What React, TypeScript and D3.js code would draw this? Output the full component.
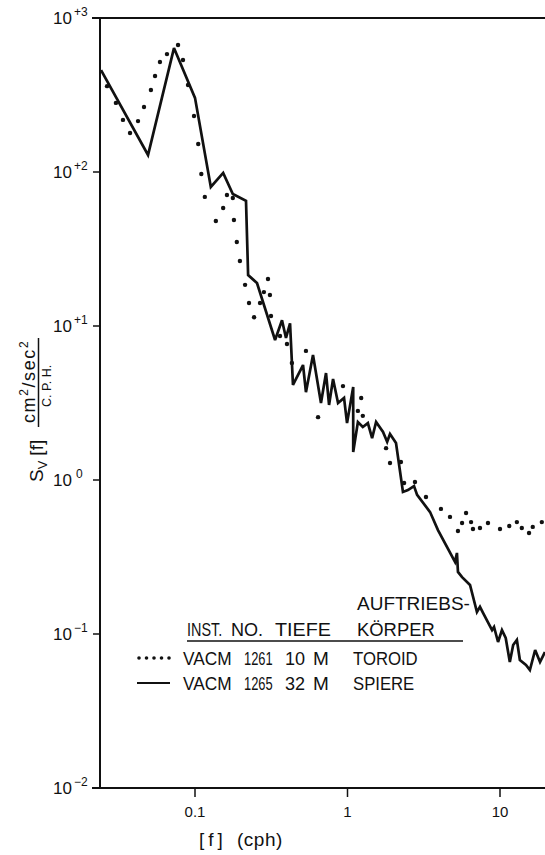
import React from 'react';
import * as d3 from 'd3';

// VACM 1265, 32 M (durchgezogen)
const freqSolid = [0.0242, 0.0492, 0.0728, 0.1, 0.127, 0.153, 0.177, 0.216, 0.223, 0.255, 0.335, 0.372, 0.395, 0.42, 0.439, 0.511, 0.534, 0.594, 0.67, 0.723, 0.757, 0.804, 0.867, 0.949, 0.993, 1.09, 1.09, 1.17, 1.26, 1.36, 1.45, 1.54, 1.71, 1.82, 1.9, 2.08, 2.31, 2.49, 2.73, 2.86, 3.48, 3.92, 5.07, 5.22, 5.3, 5.64, 6.36, 7.06, 7.39, 7.74, 8.87, 9.14, 9.71, 10.3, 10.9, 11.6, 12.2, 12.9, 13.5, 14.8, 15.7, 17.0, 18.3, 19.7];
const specSolid = [459, 129, 638, 303, 80, 98.6, 71.9, 64.9, 21.4, 19.0, 8.11, 10.9, 8.36, 10.4, 4.14, 5.58, 3.72, 6.49, 3.16, 4.95, 3.07, 4.53, 3.16, 3.41, 2.34, 4.02, 1.52, 2.38, 2.21, 2.34, 1.87, 2.38, 2.05, 1.77, 1.99, 1.74, 0.836, 0.861, 0.914, 0.8, 0.619, 0.473, 0.294, 0.336, 0.253, 0.234, 0.208, 0.139, 0.15, 0.137, 0.106, 0.111, 0.0887, 0.106, 0.0942, 0.0658, 0.0849, 0.0914, 0.0678, 0.063, 0.0584, 0.0787, 0.0658, 0.0764];

// VACM 1261, 10 M (punktiert)
const freqDots = [0.0265, 0.0303, 0.0337, 0.0375, 0.0423, 0.0463, 0.0514, 0.0547, 0.0589, 0.0655, 0.0774, 0.0834, 0.09, 0.0985, 0.105, 0.11, 0.116, 0.137, 0.153, 0.162, 0.177, 0.18, 0.188, 0.197, 0.213, 0.226, 0.244, 0.267, 0.283, 0.301, 0.31, 0.315, 0.361, 0.401, 0.432, 0.534, 0.641, 0.934, 1.17, 1.23, 1.26, 1.79, 1.9, 2.24, 2.35, 2.77, 3.27, 4.1, 4.7, 5.3, 5.64, 5.99, 6.46, 6.65, 7.39, 8.34, 10.0, 11.5, 12.9, 13.9, 15.5, 16.4, 18.8];
const specDots = [361, 281, 218, 179, 214, 264, 341, 420, 518, 583, 668, 534, 367, 231, 152, 97, 68.9, 48.1, 58.4, 70.9, 67.8, 48.8, 35.1, 26.4, 18.5, 14.1, 11.4, 14.1, 16.6, 20.2, 15.9, 11.6, 8.61, 7.64, 5.75, 6.89, 2.56, 4.07, 2.81, 3.41, 2.61, 1.61, 1.29, 1.31, 0.957, 0.971, 0.776, 0.649, 0.576, 0.467, 0.526, 0.611, 0.533, 0.481, 0.488, 0.526, 0.481, 0.503, 0.533, 0.488, 0.453, 0.496, 0.533];

const yTicks = [1000, 100, 10, 1, 0.1, 0.01];
const yTickExps = ['+3', '+2', '+1', '0', '\u22121', '\u22122'];
const xTicks = [0.1, 1, 10];
const xTickLabels = ['0.1', '1', '10'];

const legendRows = [
  { inst: 'VACM', no: '1261', tiefe: '10', koerper: 'TOROID', dotted: true },
  { inst: 'VACM', no: '1265', tiefe: '32', koerper: 'SPIERE', dotted: false },
];

const W = 545;
const H = 855;
const FONT = '"Liberation Sans", Arial, sans-serif';

// schmal gezogener Text (nur horizontal skaliert)
function Sx({ x, y, sx = 1, children }: { x: number; y: number; sx?: number; children: React.ReactNode }) {
  return <text transform={`translate(${x},${y}) scale(${sx},1)`}>{children}</text>;
}

export default function App() {
  const x = d3.scaleLog().domain([0.1, 10]).range([195, 500]);
  const y = d3.scaleLog().domain([1000, 0.01]).range([18, 788]);
  const left = 100;
  const top = y(1000);
  const bottom = y(0.01);

  const solid = freqSolid.map((f, i) => [f, specSolid[i]] as [number, number]);
  const dots = freqDots.map((f, i) => [f, specDots[i]] as [number, number]);

  const line = d3.line<[number, number]>()
    .x(d => x(d[0]))
    .y(d => y(d[1]));

  const ink = '#111';

  return (
    <svg width={W} height={H} style={{ position: 'absolute', left: 0, top: 0, background: '#fff' }} fontFamily={FONT}>
      <rect width={W} height={H} fill="#fff" />

      {/* Rahmen */}
      <line x1={left - 8} x2={W} y1={top} y2={top} stroke={ink} strokeWidth={2} />
      <line x1={left} x2={left} y1={top} y2={bottom} stroke={ink} strokeWidth={2} />
      <line x1={left - 8} x2={W} y1={bottom} y2={bottom} stroke={ink} strokeWidth={2} />

      {/* y-Achse */}
      {yTicks.map((t, i) => (
        <g key={t}>
          <line x1={left - 7} x2={left} y1={y(t)} y2={y(t)} stroke={ink} strokeWidth={1.5} />
          <text x={53} y={y(t) + 6} fontSize={17} fill={ink}>
            10
            <tspan dx={i === 3 ? 4 : 2} dy={-8} fontSize={12}>{yTickExps[i]}</tspan>
          </text>
        </g>
      ))}

      {/* x-Achse */}
      {xTicks.map((t, i) => (
        <g key={t}>
          <line x1={x(t)} x2={x(t)} y1={bottom} y2={bottom + 9} stroke={ink} strokeWidth={1.5} />
          <text x={x(t)} y={817} fontSize={15} textAnchor="middle" fill={ink}>{xTickLabels[i]}</text>
        </g>
      ))}
      <g fill={ink} fontSize={19}>
        <text x={199} y={846} letterSpacing={4}>[f]</text>
        <text x={237} y={846} letterSpacing={0.5}>(cph)</text>
      </g>

      {/* y-Beschriftung */}
      <g transform="translate(0,410) rotate(-90)" fill={ink}>
        <text x={-72} y={43} fontSize={19}>
          S<tspan dy={4} fontSize={13}>V</tspan><tspan dy={-4} dx={5}>[f]</tspan>
        </text>
        <text x={-13} y={35} fontSize={18} letterSpacing={1.6}>
          cm<tspan dy={-7} fontSize={12}>2</tspan><tspan dy={7}>/sec</tspan><tspan dy={-7} fontSize={12}>2</tspan>
        </text>
        <line x1={-17} x2={72} y1={38.5} y2={38.5} stroke={ink} strokeWidth={1.5} />
        <text x={3} y={51} fontSize={12.5}>C. P. H.</text>
      </g>

      {/* Daten */}
      <path d={line(solid) ?? ''} fill="none" stroke={ink} strokeWidth={2.7} strokeLinejoin="miter" strokeMiterlimit={3} />
      {dots.map((d, i) => (
        <circle key={i} cx={x(d[0])} cy={y(d[1])} r={2.2} fill={ink} />
      ))}

      {/* Legende */}
      <g fill={ink} fontSize={19}>
        <Sx x={357} y={610} sx={1.0}>AUFTRIEBS-</Sx>
        <Sx x={187} y={636} sx={0.76}>INST.</Sx>
        <Sx x={231} y={636} sx={0.95}>NO.</Sx>
        <Sx x={275} y={636} sx={1.04}>TIEFE</Sx>
        <Sx x={357} y={636} sx={0.97}>KÖRPER</Sx>
        <line x1={187} x2={463} y1={641} y2={641} stroke={ink} strokeWidth={1.5} />
        {legendRows.map((r, i) => {
          const by = 665 + i * 25;
          return (
            <g key={r.no}>
              {r.dotted
                ? d3.range(5).map(k => <circle key={k} cx={139 + k * 7.5} cy={by - 7} r={1.8} fill={ink} />)
                : <line x1={137} x2={170} y1={by - 7} y2={by - 7} stroke={ink} strokeWidth={2} />}
              <Sx x={183} y={by} sx={0.91}>{r.inst}</Sx>
              <Sx x={244} y={by} sx={0.68}>{r.no}</Sx>
              <Sx x={285} y={by} sx={0.95}>{r.tiefe}</Sx>
              <Sx x={313} y={by} sx={1.0}>M</Sx>
              <Sx x={353} y={by} sx={0.88}>{r.koerper}</Sx>
            </g>
          );
        })}
      </g>
    </svg>
  );
}
